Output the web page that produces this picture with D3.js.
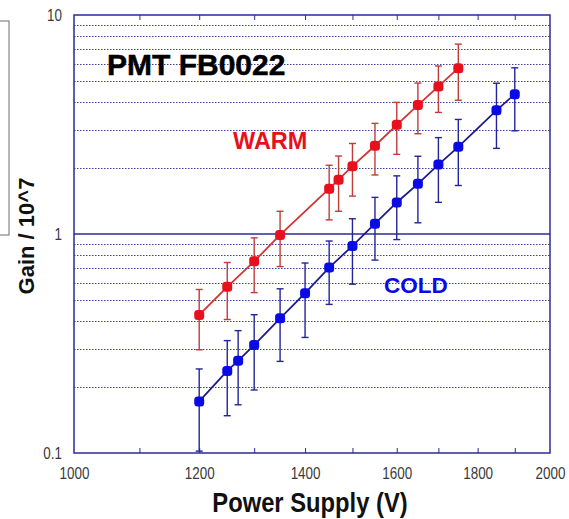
<!DOCTYPE html>
<html>
<head>
<meta charset="utf-8">
<script src="https://cdn.jsdelivr.net/npm/d3@7"></script>
<style>
  html, body { margin: 0; padding: 0; background: #ffffff; }
  svg { display: block; }
  text { font-family: "Liberation Sans", Arial, sans-serif; }
</style>
</head>
<body>
<script>
// PMT FB0022 gain versus supply voltage, warm and cold runs
const warmVoltage = [1200, 1250, 1300, 1350, 1450, 1470, 1500, 1550, 1600, 1650, 1700, 1750];
const warmGain    = [0.427, 0.574, 0.75, 0.99, 1.61, 1.77, 2.04, 2.53, 3.15, 3.88, 4.72, 5.72];
const warmError   = [0.131, 0.167, 0.21, 0.28, 0.45, 0.50, 0.55, 0.67, 0.84, 1.01, 1.13, 1.64];

const coldVoltage = [1200, 1250, 1270, 1300, 1350, 1400, 1450, 1500, 1550, 1600, 1650, 1700, 1750, 1850, 1900];
const coldGain    = [0.172, 0.237, 0.264, 0.311, 0.412, 0.537, 0.703, 0.882, 1.115, 1.393, 1.695, 2.075, 2.50, 3.67, 4.35];
const coldError   = [0.07, 0.089, 0.098, 0.117, 0.15, 0.20, 0.226, 0.292, 0.355, 0.45, 0.57, 0.68, 0.835, 1.21, 1.39];

const xTickValues = [1000, 1200, 1400, 1600, 1800, 2000];
const xMinorTicks = [1100, 1200, 1300, 1400, 1500, 1600, 1700, 1800, 1900];
const yTickValues = [0.1, 1, 10];
const yTickLabels = ["0.1", "1", "10"];

const W = 569, H = 519;
const margin = { left: 74, right: 19, top: 15, bottom: 66 };

const svg = d3.select("body").append("svg")
  .attr("width", W).attr("height", H);

const x = d3.scaleLog().domain([1000, 2000]).range([margin.left, W - margin.right]);
const y = d3.scaleLog().domain([0.1, 10]).range([H - margin.bottom, margin.top]);

const navy = "#2b2b96";
const warmColor = "#e8101c";
const warmLine = "#d23434";
const coldColor = "#0a0ae6";
const coldLine = "#1c1c8c";

// Partial legend box at the left edge
svg.append("rect")
  .attr("x", -2).attr("y", 21).attr("width", 11).attr("height", 214)
  .attr("fill", "none").attr("stroke", "#6e6e6e").attr("stroke-width", 1);

// Horizontal grid at 2..9 of each decade (dotted), solid line at 1
const minorY = [];
[0.1, 1].forEach(d => { for (let k = 2; k <= 9; k++) minorY.push(+(d * k).toFixed(3)); });

svg.append("g").selectAll("line").data(minorY).join("line")
  .attr("x1", x(1000)).attr("x2", x(2000))
  .attr("y1", d => Math.round(y(d)) + 0.5).attr("y2", d => Math.round(y(d)) + 0.5)
  .attr("stroke", navy).attr("stroke-width", 1)
  .attr("stroke-dasharray", "1.5,1.5").attr("opacity", 0.9);

svg.append("line")
  .attr("x1", x(1000)).attr("x2", x(2000))
  .attr("y1", y(1)).attr("y2", y(1))
  .attr("stroke", navy).attr("stroke-width", 1.5);

// Plot frame
svg.append("rect")
  .attr("x", x(1000)).attr("y", y(10))
  .attr("width", x(2000) - x(1000)).attr("height", y(0.1) - y(10))
  .attr("fill", "none").attr("stroke", navy).attr("stroke-width", 1.5);

// Minor x ticks on the bottom and top edges
const xAxisBottom = d3.axisBottom(x).tickValues(xMinorTicks).tickSize(-5).tickFormat("");
svg.append("g").attr("transform", `translate(0,${y(0.1)})`).call(xAxisBottom)
  .call(g => g.select(".domain").remove())
  .call(g => g.selectAll("line").attr("stroke", navy).attr("stroke-width", 1));
const xAxisTop = d3.axisTop(x).tickValues(xMinorTicks).tickSize(-5).tickFormat("");
svg.append("g").attr("transform", `translate(0,${y(10)})`).call(xAxisTop)
  .call(g => g.select(".domain").remove())
  .call(g => g.selectAll("line").attr("stroke", navy).attr("stroke-width", 1));

// X tick labels (slightly condensed, taller glyphs)
const xLabels = d3.axisBottom(x).tickValues(xTickValues).tickSize(0).tickPadding(0)
  .tickFormat(d3.format("d"));
svg.append("g").attr("transform", `translate(0,${y(0.1)})`).call(xLabels)
  .call(g => g.select(".domain").remove())
  .call(g => g.selectAll("text")
    .attr("font-size", 16).attr("fill", "#3a3a3a")
    .attr("dy", 0).attr("y", 0)
    .attr("transform", "translate(0,26) scale(0.84,1)")
    .attr("font-family", "'Liberation Sans', Arial, sans-serif"));

// Y tick labels
const yLabels = d3.axisLeft(y).tickValues(yTickValues).tickSize(0).tickPadding(0)
  .tickFormat((d, i) => yTickLabels[i]);
svg.append("g").attr("transform", `translate(${x(1000)},0)`).call(yLabels)
  .call(g => g.select(".domain").remove())
  .call(g => g.selectAll("text")
    .attr("font-size", 16).attr("fill", "#3a3a3a")
    .attr("x", 0)
    .attr("transform", "translate(-12,0) scale(0.84,1)")
    .attr("font-family", "'Liberation Sans', Arial, sans-serif"));

// Axis titles
svg.append("text")
  .attr("x", 310).attr("y", 512)
  .attr("text-anchor", "middle")
  .attr("font-size", 22).attr("font-weight", "bold").attr("fill", "#111")
  .attr("transform", "translate(310,512) scale(1.08,1.25) translate(-310,-512)")
  .text("Power Supply (V)");

svg.append("defs").append("clipPath").attr("id", "yclip")
  .append("rect").attr("x", 18).attr("y", 0).attr("width", 40).attr("height", H);
svg.append("g").attr("clip-path", "url(#yclip)")
  .append("text")
  .attr("transform", "translate(34,236) rotate(-90)")
  .attr("text-anchor", "middle")
  .attr("font-size", 22).attr("font-weight", "bold").attr("fill", "#111")
  .text("Gain / 10^7");

// Series: connecting line, error bars, markers
function drawSeries(volts, gains, errs, markColor, lineColor, barColor) {
  const pts = volts.map((v, i) => ({ v, g: gains[i], e: errs[i] }));
  const line = d3.line().x(d => x(d.v)).y(d => y(d.g));
  const g = svg.append("g");
  g.append("path").datum(pts).attr("d", line)
    .attr("fill", "none").attr("stroke", lineColor).attr("stroke-width", 1.8);
  const bars = g.append("g").selectAll("g").data(pts).join("g")
    .attr("stroke", barColor).attr("stroke-width", 1.4);
  bars.append("line")
    .attr("x1", d => x(d.v)).attr("x2", d => x(d.v))
    .attr("y1", d => y(d.g + d.e)).attr("y2", d => y(Math.max(d.g - d.e, 0.1)));
  bars.append("line")
    .attr("x1", d => x(d.v) - 3.5).attr("x2", d => x(d.v) + 3.5)
    .attr("y1", d => y(d.g + d.e)).attr("y2", d => y(d.g + d.e));
  bars.append("line")
    .attr("x1", d => x(d.v) - 3.5).attr("x2", d => x(d.v) + 3.5)
    .attr("y1", d => y(Math.max(d.g - d.e, 0.1))).attr("y2", d => y(Math.max(d.g - d.e, 0.1)));
  g.append("g").selectAll("rect").data(pts).join("rect")
    .attr("x", d => x(d.v) - 5).attr("y", d => y(d.g) - 5)
    .attr("width", 10).attr("height", 10).attr("rx", 3.5)
    .attr("fill", markColor);
}

drawSeries(warmVoltage, warmGain, warmError, warmColor, warmLine, "#c23a3a");
drawSeries(coldVoltage, coldGain, coldError, coldColor, coldLine, "#24249a");

// Annotations
svg.append("text").attr("x", 107).attr("y", 75)
  .attr("font-size", 30).attr("font-weight", "bold").attr("fill", "#000")
  .attr("stroke", "#000").attr("stroke-width", 0.5)
  .text("PMT FB0022");
svg.append("text").attr("x", 233).attr("y", 149)
  .attr("font-size", 23.5).attr("font-weight", "bold").attr("fill", warmColor)
  .text("WARM");
svg.append("text").attr("x", 384).attr("y", 292.5)
  .attr("font-size", 22.5).attr("font-weight", "bold").attr("fill", coldColor)
  .text("COLD");
</script>
</body>
</html>
